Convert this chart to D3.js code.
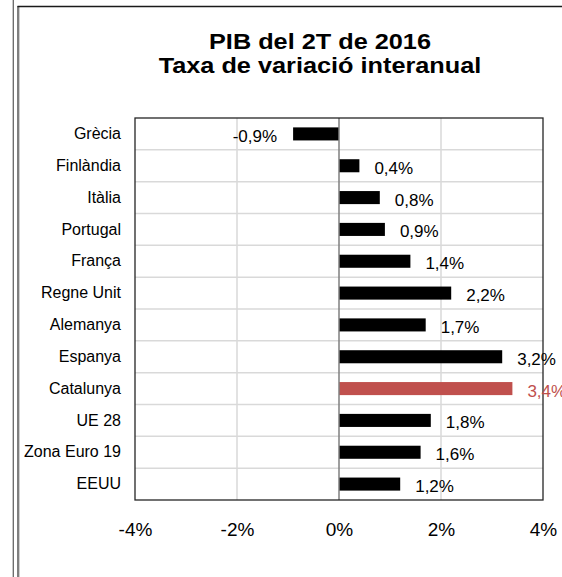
<!DOCTYPE html>
<html lang="ca">
<head>
	<meta charset="UTF-8">
	<title>PIB del 2T de 2016</title>
	<script src="https://cdn.jsdelivr.net/npm/d3@7"></script>
	<style>
		*{
			margin: 0px;
			box-sizing: border-box;
		}
		html,body{
			width:562px;
			height:577px;
			overflow: hidden;
			background:#fff;
		}
		svg text{
			font-family: "Liberation Sans", Arial, sans-serif;
			fill:#000;
		}
		.axis path,.axis line{
			stroke:none;
		}
	</style>
</head>
<body>
	<svg id="svg" width="562" height="577"></svg>
	<script>
		// dades llegides del gràfic
		var categories = ["Grècia", "Finlàndia", "Itàlia", "Portugal", "França", "Regne Unit",
			"Alemanya", "Espanya", "Catalunya", "UE 28", "Zona Euro 19", "EEUU"];
		var values = [-0.9, 0.4, 0.8, 0.9, 1.4, 2.2, 1.7, 3.2, 3.4, 1.8, 1.6, 1.2];
		var highlight = "Catalunya";
		var xTicks = [-4, -2, 0, 2, 4];
		var titleLines = ["PIB del 2T de 2016", "Taxa de variació interanual"];

		var svg = d3.select("#svg"),
			plot = {left: 135, right: 543, top: 118, bottom: 500};

		// marc del full
		svg.append("line").attr("x1", 12.5).attr("x2", 12.5).attr("y1", 0).attr("y2", 577)
			.attr("stroke", "#c8c8c8").attr("stroke-width", 1);
		svg.append("line").attr("x1", 13.5).attr("x2", 13.5).attr("y1", 0).attr("y2", 577)
			.attr("stroke", "#6e6e6e").attr("stroke-width", 1);
		svg.append("line").attr("x1", 18).attr("x2", 18).attr("y1", 6).attr("y2", 577)
			.attr("stroke", "#555").attr("stroke-width", 1.5);
		svg.append("line").attr("x1", 19.5).attr("x2", 19.5).attr("y1", 7).attr("y2", 577)
			.attr("stroke", "#cfcfcf").attr("stroke-width", 1);
		svg.append("line").attr("x1", 17.5).attr("x2", 562).attr("y1", 6.5).attr("y2", 6.5)
			.attr("stroke", "#1a1a1a").attr("stroke-width", 1.5);

		var x = d3.scaleLinear().domain([-4, 4]).range([plot.left, plot.right]);
		var y = d3.scaleBand().domain(categories).range([plot.top, plot.bottom]).padding(0);
		var barH = y.bandwidth() * 0.41;

		// títol (una mica eixamplat, com al original)
		svg.append("g").selectAll("text")
			.data(titleLines)
			.enter().append("text")
			.attr("transform", function(d, i) { return "translate(320," + (49 + i * 24) + ") scale(1.15,1)"; })
			.attr("text-anchor", "middle")
			.style("font-size", "22px")
			.style("font-weight", "bold")
			.text(function(d) { return d; });

		// quadrícula
		var grid = svg.append("g");
		grid.selectAll(".vgrid")
			.data(xTicks.filter(function(d) { return d != 0 && Math.abs(d) != 4; }))
			.enter().append("line")
			.attr("x1", function(d) { return x(d); })
			.attr("x2", function(d) { return x(d); })
			.attr("y1", plot.top).attr("y2", plot.bottom)
			.attr("stroke", "#d9d9d9").attr("stroke-width", 1.5);
		grid.selectAll(".hgrid")
			.data(categories.slice(1))
			.enter().append("line")
			.attr("x1", plot.left).attr("x2", plot.right)
			.attr("y1", function(d) { return y(d); })
			.attr("y2", function(d) { return y(d); })
			.attr("stroke", "#d9d9d9").attr("stroke-width", 1.5);

		// barres
		svg.append("g").selectAll("rect")
			.data(values)
			.enter().append("rect")
			.attr("x", function(d) { return x(Math.min(0, d)); })
			.attr("width", function(d) { return Math.abs(x(d) - x(0)); })
			.attr("y", function(d, i) { return y(categories[i]) + (y.bandwidth() - barH) / 2; })
			.attr("height", barH)
			.attr("fill", function(d, i) { return categories[i] == highlight ? "#c0504d" : "#000"; });

		// eix zero
		svg.append("line")
			.attr("x1", x(0)).attr("x2", x(0))
			.attr("y1", plot.top).attr("y2", plot.bottom)
			.attr("stroke", "#7f7f7f").attr("stroke-width", 1.5);

		// vora de l'àrea
		svg.append("rect")
			.attr("x", plot.left).attr("y", plot.top)
			.attr("width", plot.right - plot.left).attr("height", plot.bottom - plot.top)
			.attr("fill", "none").attr("stroke", "#262626").attr("stroke-width", 1.3);

		// etiquetes de dades
		svg.append("g").selectAll("text")
			.data(values)
			.enter().append("text")
			.attr("x", function(d) { return d < 0 ? x(d) - 16 : x(d) + 15; })
			.attr("y", function(d, i) { return y(categories[i]) + y.bandwidth() / 2 + 8; })
			.attr("text-anchor", function(d) { return d < 0 ? "end" : "start"; })
			.style("font-size", "17px")
			.style("fill", function(d, i) { return categories[i] == highlight ? "#c0504d" : "#000"; })
			.text(function(d) { return String(d).replace(".", ",") + "%"; });

		// eixos
		svg.append("g").attr("class", "axis")
			.attr("transform", "translate(" + plot.left + ",0)")
			.call(d3.axisLeft(y).tickSize(0).tickPadding(14))
			.selectAll("text")
			.style("font-size", "16px");

		svg.append("g").attr("class", "axis")
			.attr("transform", "translate(0," + plot.bottom + ")")
			.call(d3.axisBottom(x).tickValues(xTicks).tickSize(0).tickPadding(0)
				.tickFormat(function(d) { return d + "%"; }))
			.selectAll("text")
			.attr("dy", null)
			.attr("y", 36)
			.style("font-size", "19px");
	</script>
</body>
</html>
